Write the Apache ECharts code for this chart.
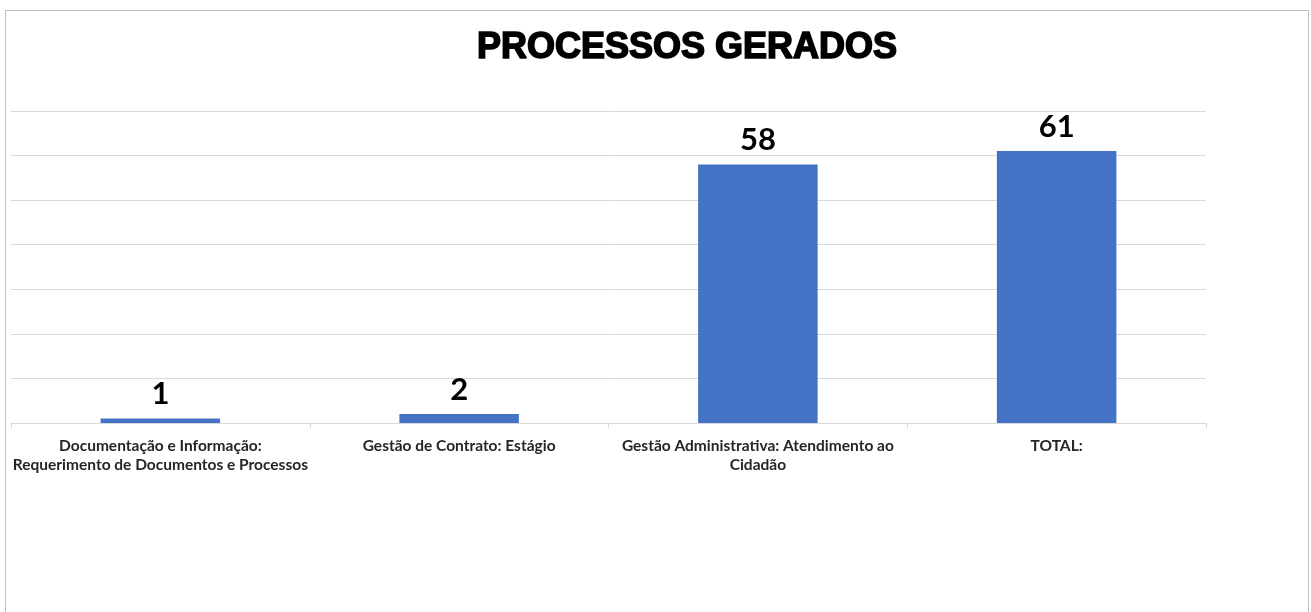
<!DOCTYPE html>
<html>
<head>
<meta charset="utf-8">
<script src="https://cdn.jsdelivr.net/npm/echarts@6/dist/echarts.min.js"></script>
<style>
  html,body{margin:0;padding:0;background:#fff;}
  #frame{position:absolute;left:5px;top:10px;width:1304px;height:640px;border:1px solid #bfbfbf;box-sizing:border-box;}
  #main{position:absolute;left:0;top:0;width:1311px;height:612px;}
</style>
</head>
<body>
<div id="frame"></div>
<div id="main"></div>
<script>
var titleText = 'PROCESSOS GERADOS';
var categories = [
  'Documentação e Informação:\nRequerimento de Documentos e Processos',
  'Gestão de Contrato: Estágio',
  'Gestão Administrativa: Atendimento ao\nCidadão',
  'TOTAL:'
];
var values = [1, 2, 58, 61];

var myChart = echarts.init(document.getElementById('main'));
var option = {
  backgroundColor: 'transparent',
  title: {
    text: titleText,
    left: 472,
    top: 25,
    textStyle: {
      fontFamily: 'Liberation Sans',
      fontWeight: 900,
      fontSize: 36,
      color: '#000',
      textBorderColor: '#000',
      textBorderWidth: 1.6
    }
  },
  grid: {
    left: 11,
    right: 105,
    top: 111,
    bottom: 189
  },
  xAxis: {
    type: 'category',
    data: categories,
    axisLine: { lineStyle: { color: '#d9d9d9' } },
    axisTick: { show: true, length: 5, lineStyle: { color: '#d9d9d9' } },
    axisLabel: {
      margin: 13,
      interval: 0,
      fontFamily: 'Lato',
      fontWeight: 'bold',
      fontSize: 15.5,
      lineHeight: 19,
      color: '#262626'
    }
  },
  yAxis: {
    type: 'value',
    min: 0,
    max: 70,
    interval: 10,
    axisLabel: { show: false },
    axisLine: { show: false },
    axisTick: { show: false },
    splitLine: { lineStyle: { color: '#d9d9d9' } }
  },
  series: [{
    type: 'bar',
    data: values,
    barWidth: '40%',
    itemStyle: { color: '#4472c4' },
    label: {
      show: true,
      position: 'top',
      distance: 9,
      fontFamily: 'Lato',
      fontWeight: 'bold',
      fontSize: 31,
      color: '#000'
    }
  }]
};
myChart.setOption(option);
</script>
</body>
</html>
